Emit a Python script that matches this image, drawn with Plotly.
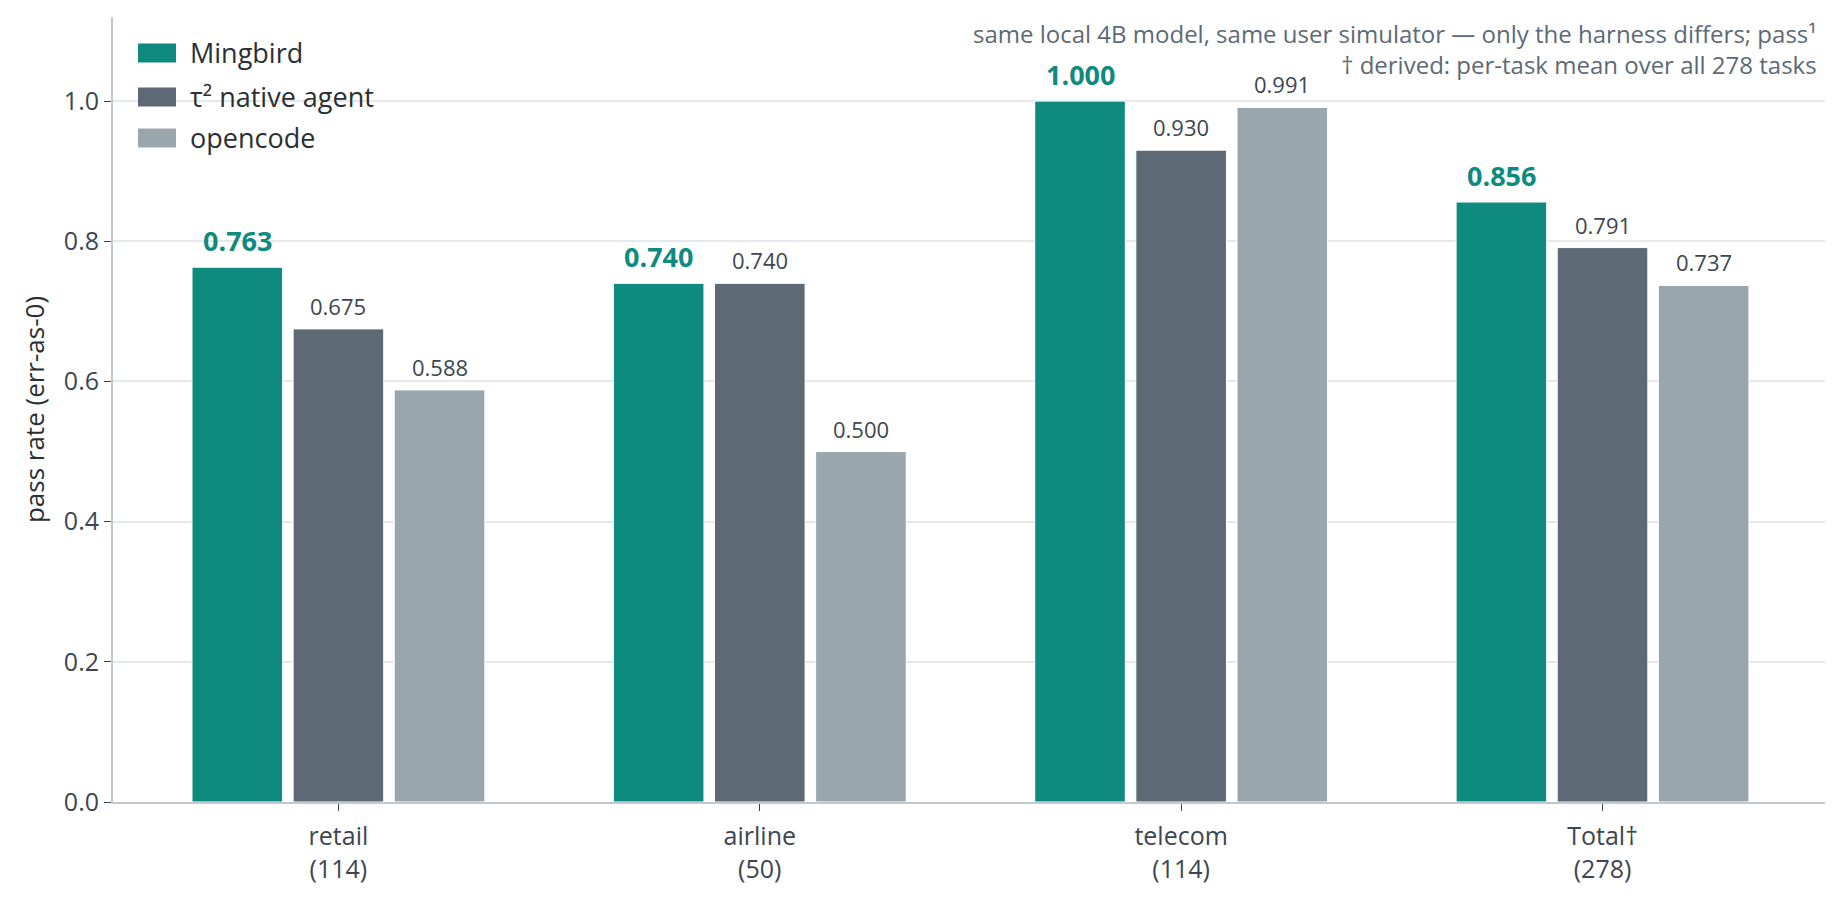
import plotly.graph_objects as go

categories = ["retail<br>(114)", "airline<br>(50)", "telecom<br>(114)", "Total\u2020<br>(278)"]
series_names = ["Mingbird", "\u03c4\u00b2 native agent", "opencode"]
mingbird = [0.763, 0.740, 1.000, 0.856]
native_agent = [0.675, 0.740, 0.930, 0.791]
opencode = [0.588, 0.500, 0.991, 0.737]
colors = ["#0f8a7e", "#5d6a75", "#9aa6ae"]

note_lines = [
    "same local 4B model, same user simulator \u2014 only the harness differs; pass\u00b9",
    "\u2020 derived: per-task mean over all 278 tasks",
]

font_family = "Open Sans, Noto Sans, sans-serif"
bar_w = 0.215
step = 0.240

fig = go.Figure()
for k, (name, vals) in enumerate(zip(series_names, [mingbird, native_agent, opencode])):
    shift = (k - 1) * step
    fig.add_trace(go.Bar(
        x=list(range(len(categories))),
        y=vals,
        name=name,
        width=bar_w,
        offset=shift - bar_w / 2,
        marker=dict(color=colors[k], line=dict(color="white", width=1)),
        showlegend=False,
    ))
    # value labels above each bar
    for i, v in enumerate(vals):
        if k == 0:
            txt = "<b>%.3f</b>" % v
            tfont = dict(size=27, color=colors[0], family=font_family)
        else:
            txt = "%.3f" % v
            tfont = dict(size=22, color="#3d4650", family=font_family)
        fig.add_annotation(
            x=i + shift, y=v, xref="x", yref="y",
            text=txt, showarrow=False,
            xanchor="center", yanchor="bottom", yshift=6,
            font=tfont,
        )

# legend drawn as swatches + labels
plot_w = 1840 - 105 - 23
plot_h = 900 - 9 - 106
leg_y = [36, 80, 121]
for k, name in enumerate(series_names):
    yc = 1 - leg_y[k] / plot_h
    fig.add_shape(
        type="rect", xref="paper", yref="paper",
        x0=25 / plot_w, x1=63 / plot_w,
        y0=yc - 9.5 / plot_h, y1=yc + 9.5 / plot_h,
        fillcolor=colors[k], line=dict(width=0),
    )
    fig.add_annotation(
        x=75 / plot_w, y=yc, xref="paper", yref="paper",
        text=name, showarrow=False,
        xanchor="left", yanchor="middle",
        font=dict(size=27, color="#2b2f33"),
    )

fig.update_layout(
    width=1840,
    height=900,
    barmode="overlay",
    plot_bgcolor="white",
    paper_bgcolor="white",
    font=dict(family=font_family, size=24, color="#3d4650"),
    margin=dict(l=105, r=23, t=9, b=106),
    showlegend=False,
)

fig.update_xaxes(
    range=[-0.535, 3.528],
    tickmode="array",
    tickvals=list(range(len(categories))),
    ticktext=categories,
    ticks="outside",
    ticklen=7,
    tickcolor="#3d4650",
    ticklabelstandoff=4,
    showline=True,
    linecolor="#c3c8cd",
    linewidth=2,
    showgrid=False,
    tickfont=dict(size=25, color="#3d4650"),
    automargin=False,
)
fig.update_yaxes(
    range=[0, 1.12],
    tickvals=[0, 0.2, 0.4, 0.6, 0.8, 1.0],
    ticktext=["0.0", "0.2", "0.4", "0.6", "0.8", "1.0"],
    ticks="outside",
    ticklen=7,
    tickcolor="#3d4650",
    showline=True,
    linecolor="#c3c8cd",
    linewidth=2,
    showgrid=True,
    gridcolor="#e6e9ec",
    gridwidth=1.5,
    zeroline=False,
    title=dict(text="pass rate (err-as-0)", font=dict(size=26, color="#2b2f33"), standoff=12),
    tickfont=dict(size=25, color="#3d4650"),
    automargin=False,
)

fig.add_annotation(
    x=1 - 6 / plot_w, y=1 - 32.5 / plot_h, xref="paper", yref="paper",
    xanchor="right", yanchor="middle", align="right",
    text="<br>".join(note_lines), showarrow=False,
    font=dict(size=24, color="#5d6a75"),
)

fig.write_html("out.html")
